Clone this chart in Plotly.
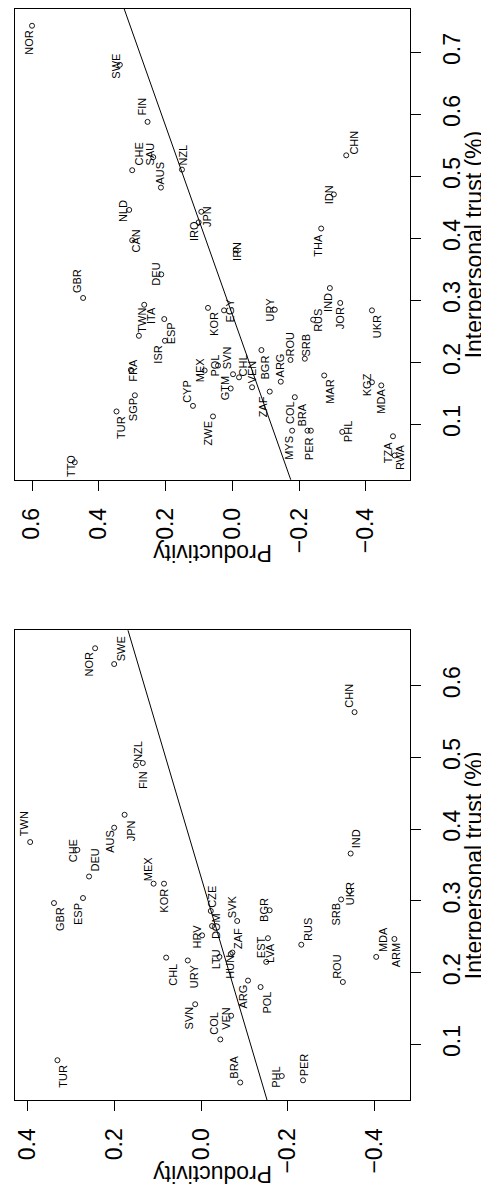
import plotly.graph_objects as go

# ---------------- data: right-hand (upper in picture) panel ----------------
top_countries = ["NOR", "SWE", "FIN", "CHE", "SAU", "AUS", "NZL", "CHN", "IDN", "NLD",
                 "CAN", "IRQ", "JPN", "THA", "IRN", "GBR", "DEU", "TWN", "ITA", "ESP",
                 "ISR", "FRA", "SGP", "TUR", "TTO", "CYP", "ZWE", "MEX", "KOR", "EGY",
                 "POL", "SVN", "CHL", "GTM", "VEN", "ZAF", "BGR", "URY", "ARG", "ROU",
                 "SRB", "COL", "BRA", "PER", "MYS", "RUS", "IND", "JOR", "MAR", "UKR",
                 "KGZ", "MDA", "PHL", "TZA", "RWA"]
top_productivity = [0.600, 0.337, 0.254, 0.300, 0.237, 0.214, 0.151, -0.341, -0.304, 0.309,
                    0.300, 0.101, 0.093, -0.266, -0.010, 0.447, 0.213, 0.280, 0.264, 0.204,
                    0.202, 0.304, 0.292, 0.347, 0.472, 0.118, 0.058, 0.083, 0.073, 0.025,
                    0.043, -0.002, -0.020, 0.005, -0.059, -0.112, -0.087, -0.127, -0.145, -0.174,
                    -0.217, -0.187, -0.235, -0.225, -0.179, -0.242, -0.292, -0.323, -0.275, -0.418,
                    -0.418, -0.446, -0.329, -0.481, -0.486]
top_trust = [0.743, 0.680, 0.588, 0.510, 0.531, 0.482, 0.511, 0.534, 0.471, 0.446,
             0.397, 0.426, 0.443, 0.416, 0.381, 0.304, 0.342, 0.243, 0.293, 0.270,
             0.235, 0.188, 0.147, 0.121, 0.039, 0.130, 0.113, 0.187, 0.288, 0.284,
             0.195, 0.181, 0.176, 0.158, 0.160, 0.153, 0.220, 0.285, 0.169, 0.204,
             0.206, 0.144, 0.090, 0.090, 0.090, 0.269, 0.320, 0.296, 0.179, 0.284,
             0.168, 0.163, 0.088, 0.081, 0.050]
top_fit = {"intercept": -0.182, "slope": 0.657}
top_trust_ticks = [0.1, 0.2, 0.3, 0.4, 0.5, 0.6, 0.7]

# ---------------- data: left-hand (lower in picture) panel ----------------
bot_countries = ["NOR", "SWE", "CHN", "FIN", "NZL", "TWN", "JPN", "AUS", "CHE", "DEU",
                 "MEX", "KOR", "IND", "GBR", "ESP", "TUR", "CZE", "DOM", "SVK", "BGR",
                 "HRV", "ZAF", "HUN", "LTU", "EST", "LVA", "CHL", "URY", "ARG", "POL",
                 "SVN", "COL", "VEN", "BRA", "PHL", "PER", "RUS", "SRB", "UKR", "ROU",
                 "MDA", "ARM"]
bot_productivity = [0.245, 0.201, -0.354, 0.151, 0.135, 0.395, 0.177, 0.201, 0.286, 0.259,
                    0.110, 0.086, -0.345, 0.340, 0.273, 0.332, -0.022, -0.025, -0.083, -0.158,
                    -0.002, -0.072, -0.068, -0.042, -0.154, -0.150, 0.081, 0.031, -0.108, -0.137,
                    0.014, -0.044, -0.069, -0.090, -0.186, -0.235, -0.231, -0.323, -0.342, -0.327,
                    -0.404, -0.446]
bot_trust = [0.652, 0.630, 0.563, 0.489, 0.492, 0.382, 0.420, 0.402, 0.371, 0.334,
             0.324, 0.324, 0.366, 0.297, 0.304, 0.078, 0.286, 0.265, 0.272, 0.287,
             0.252, 0.228, 0.226, 0.222, 0.248, 0.215, 0.221, 0.217, 0.189, 0.180,
             0.156, 0.107, 0.140, 0.047, 0.056, 0.050, 0.239, 0.302, 0.314, 0.187,
             0.222, 0.247]
bot_fit = {"intercept": -0.163, "slope": 0.4905}
bot_trust_ticks = [0.1, 0.2, 0.3, 0.4, 0.5, 0.6]

prod_ticks = [0.6, 0.4, 0.2, 0.0, -0.2, -0.4]
x_title = "Productivity"
y_title = "Interpersonal trust (%)"

# ---------------- label nudges (pixels in picture: right, down) ----------------
top_nudge = {
    "NOR": (-3, 17), "SWE": (-4, 1), "FIN": (-6, -15), "CHE": (7, -16), "SAU": (-3, -3),
    "AUS": (-1, -15), "NZL": (1, -15), "CHN": (8, -13), "IDN": (-4, 0), "NLD": (-6, 1),
    "CAN": (4, 1), "IRQ": (-4, 9), "JPN": (5, 5), "THA": (-4, 17), "IRN": (2, 1),
    "GBR": (-6, -17), "DEU": (-5, 0), "TWN": (3, -16), "ITA": (7, 11), "ESP": (7, 14),
    "ISR": (-7, 14), "FRA": (2, 0), "SGP": (-2, 14), "TUR": (5, 16), "TTO": (-3, 4),
    "CYP": (-6, -15), "ZWE": (-5, 17), "MEX": (-5, -1), "KOR": (6, 16), "EGY": (6, 0),
    "POL": (-3, 0), "SVN": (-6, -16), "CHL": (4, -12), "GTM": (-6, 0), "VEN": (0, -15),
    "ZAF": (-7, 15), "BGR": (4, 17), "URY": (-5, 0), "ARG": (-1, -16), "ROU": (0, -16),
    "SRB": (1, -14), "COL": (-5, 15), "BRA": (-9, -16), "PER": (1, 18), "MYS": (-3, 17),
    "RUS": (4, 1), "IND": (-2, 14), "JOR": (0, 15), "MAR": (6, 16), "UKR": (5, 16),
    "KGZ": (-5, 2), "MDA": (0, 16), "PHL": (6, 0), "TZA": (-5, 16), "RWA": (6, 2),
}
bot_nudge = {
    "NOR": (-6, 16), "SWE": (7, -15), "CHN": (-5, -16), "FIN": (7, 15), "NZL": (-5, -12),
    "TWN": (-6, -18), "JPN": (6, 16), "AUS": (-4, 14), "CHE": (-4, 1), "DEU": (5, -16),
    "MEX": (-6, -15), "KOR": (0, 17), "IND": (5, -15), "GBR": (6, 16), "ESP": (-5, 16),
    "TUR": (6, 16), "CZE": (1, -14), "DOM": (4, 0), "SVK": (-5, -14), "BGR": (-5, 0),
    "HRV": (-5, 1), "ZAF": (5, -14), "HUN": (-1, 13), "LTU": (-4, 2), "EST": (-7, 9),
    "LVA": (4, -9), "CHL": (6, 17), "URY": (7, 16), "ARG": (-5, 16), "POL": (6, 16),
    "SVN": (-6, 14), "COL": (-6, -16), "VEN": (-5, 3), "BRA": (-6, -15), "PHL": (-6, 1),
    "PER": (1, -15), "RUS": (6, -15), "SRB": (-5, 15), "UKR": (0, 3), "ROU": (-6, -16),
    "MDA": (7, -17), "ARM": (2, 16),
}

FONT = "Liberation Sans, Arial, Helvetica, sans-serif"
W, H = 489, 1192
ML, MR, MT, MB = 7, 87, 1, 100

fig = go.Figure()

panels = [
    dict(xa="x", ya="y", countries=top_countries, prod=top_productivity, trust=top_trust,
         fit=top_fit, nudge=top_nudge, xrange=[0.651, -0.532], yrange=[0.011, 0.770],
         yticks=top_trust_ticks, ydomain=[0.5686, 1.0]),
    dict(xa="x2", ya="y2", countries=bot_countries, prod=bot_productivity, trust=bot_trust,
         fit=bot_fit, nudge=bot_nudge, xrange=[0.430, -0.482], yrange=[0.0226, 0.677],
         yticks=bot_trust_ticks, ydomain=[0.0, 0.4305]),
]

annotations = []
for i, p in enumerate(panels):
    # regression line
    t0, t1 = p["yrange"][0] - 0.2, p["yrange"][1] + 0.2
    fig.add_trace(go.Scatter(
        x=[p["fit"]["intercept"] + p["fit"]["slope"] * t0,
           p["fit"]["intercept"] + p["fit"]["slope"] * t1],
        y=[t0, t1], mode="lines", line=dict(color="black", width=1),
        xaxis=p["xa"], yaxis=p["ya"], showlegend=False, hoverinfo="skip"))
    # points
    fig.add_trace(go.Scatter(
        x=p["prod"], y=p["trust"], mode="markers",
        marker=dict(symbol="circle-open", size=5, color="black", line=dict(width=0.9)),
        xaxis=p["xa"], yaxis=p["ya"], showlegend=False, text=p["countries"]))
    # labels
    for c, xv, yv in zip(p["countries"], p["prod"], p["trust"]):
        dx, dy = p["nudge"].get(c, (0, 0))
        annotations.append(dict(
            x=xv, y=yv, xref=p["xa"], yref=p["ya"], text=c, showarrow=False,
            textangle=-90, xanchor="center", yanchor="middle",
            xshift=dx, yshift=-dy, font=dict(family=FONT, size=11, color="black")))
    xdom = p["xa"] + " domain"
    ydom = p["ya"] + " domain"
    annotations.append(dict(
        x=0.5, y=0, xref=xdom, yref=ydom, text=x_title, showarrow=False,
        textangle=180, xanchor="center", yanchor="middle", yshift=-74,
        font=dict(family=FONT, size=23, color="black")))
    annotations.append(dict(
        x=1, y=0.5, xref=xdom, yref=ydom, text=y_title, showarrow=False,
        textangle=-90, xanchor="center", yanchor="middle", xshift=64,
        font=dict(family=FONT, size=23, color="black")))

axis_common = dict(showline=True, linecolor="black", linewidth=1, mirror=True,
                   showgrid=False, zeroline=False, ticks="outside", ticklen=10,
                   tickwidth=1, tickcolor="black", tickangle=-90,
                   tickfont=dict(family=FONT, size=23, color="black"))

layout = dict(
    width=W, height=H, margin=dict(l=ML, r=MR, t=MT, b=MB),
    plot_bgcolor="white", paper_bgcolor="white", showlegend=False,
    annotations=annotations,
)
for i, p in enumerate(panels):
    sx = "" if i == 0 else "2"
    layout["xaxis" + sx] = dict(axis_common, range=p["xrange"], tickvals=prod_ticks,
                               tickformat=".1f", domain=[0, 1], anchor="y" + sx,
                               ticklabelstandoff=8)
    layout["yaxis" + sx] = dict(axis_common, range=p["yrange"], tickvals=p["yticks"],
                               tickformat=".1f", domain=p["ydomain"], anchor="x" + sx,
                               side="right", ticklabelstandoff=11)
fig.update_layout(**layout)

fig.write_html("out.html")
